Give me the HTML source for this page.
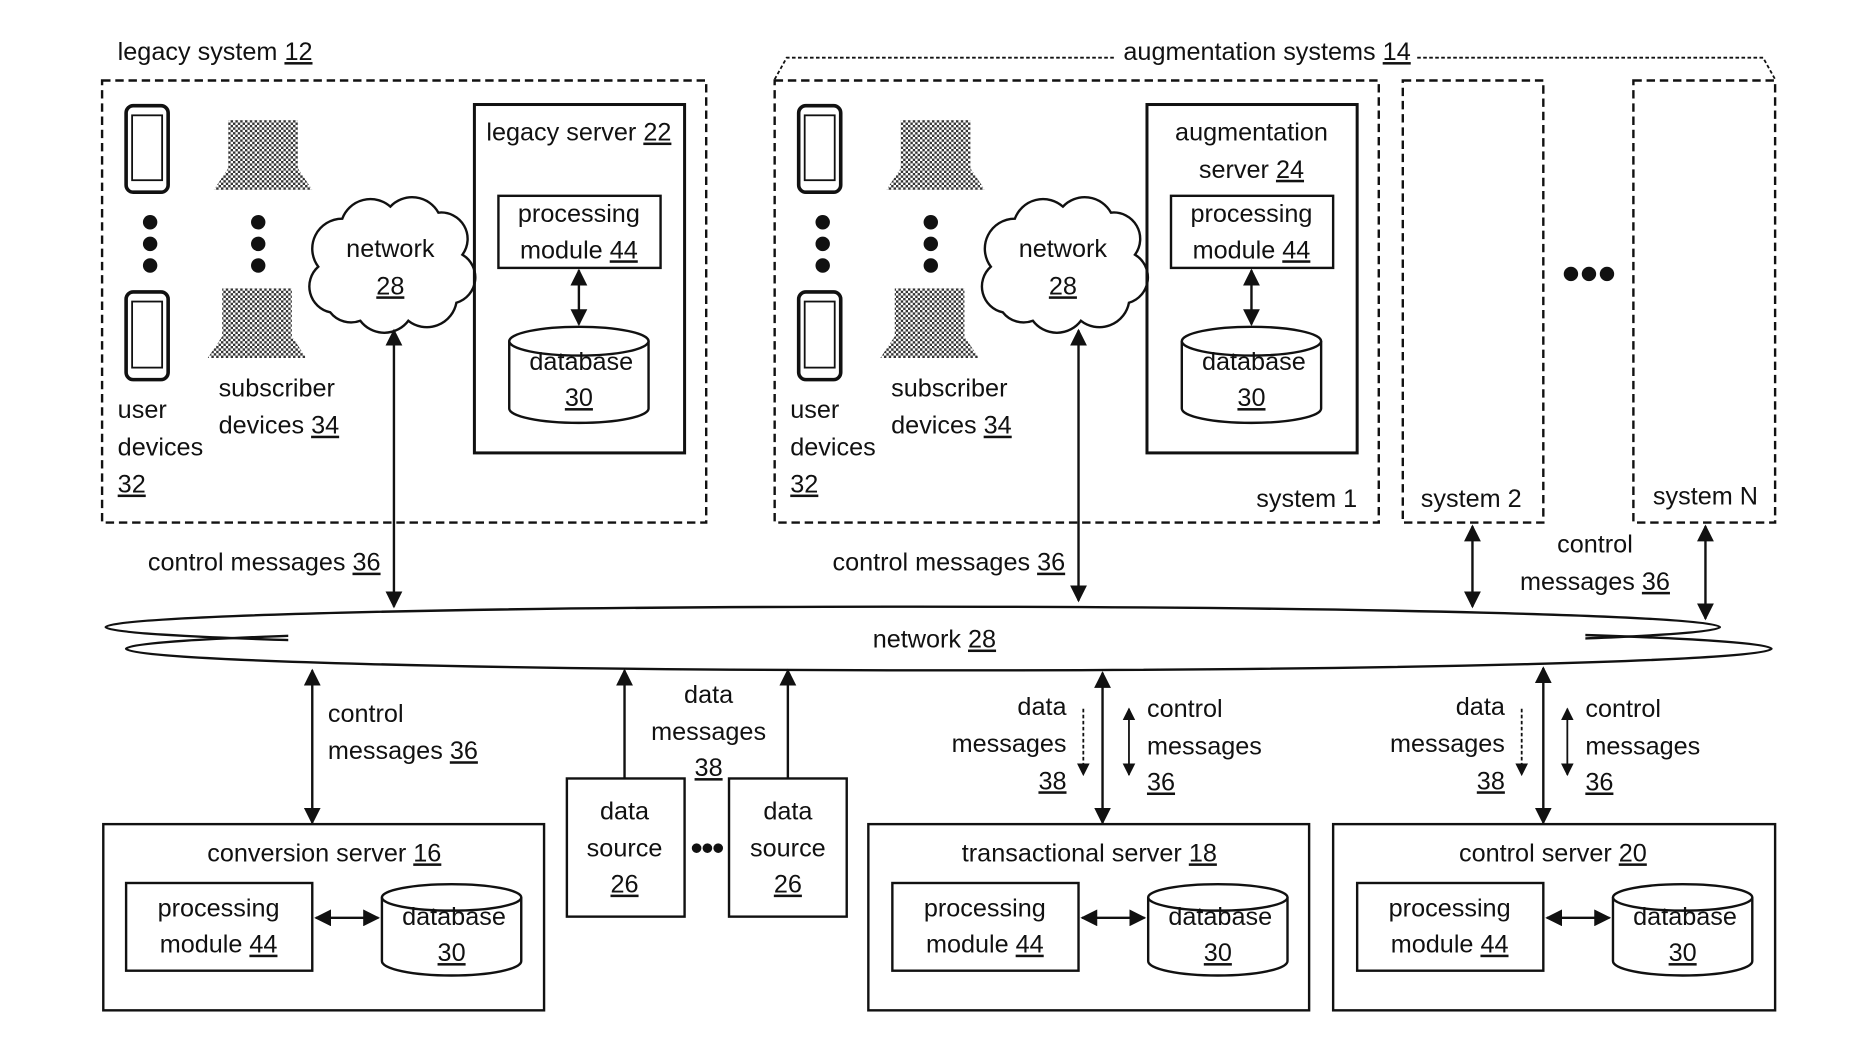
<!DOCTYPE html>
<html><head><meta charset="utf-8"><style>
html,body{margin:0;padding:0;background:#fff}
svg{display:block}
text{font-family:"Liberation Sans",sans-serif;font-size:21px;fill:#111}
.u{text-decoration:underline}
</style></head><body>
<svg width="1876" height="1062" viewBox="0 0 1562 884" preserveAspectRatio="none" xmlns="http://www.w3.org/2000/svg">
<defs>
<marker id="a" viewBox="0 0 10 10" refX="9" refY="5" markerWidth="7" markerHeight="7" orient="auto-start-reverse"><path d="M0,0 L10,5 L0,10 z" fill="#111"/></marker>
<pattern id="dot" width="4" height="4" patternUnits="userSpaceOnUse"><rect width="4" height="4" fill="#fff"/><rect width="2" height="2" fill="#333"/><rect x="2" y="2" width="2" height="2" fill="#333"/></pattern>
<g id="dev">
<rect x="105" y="88" width="35" height="72" rx="6" fill="#fff" stroke="#111" stroke-width="3"/>
<rect x="110" y="96" width="25" height="54" fill="none" stroke="#111" stroke-width="1.5"/>
<rect x="105" y="243" width="35" height="73" rx="6" fill="#fff" stroke="#111" stroke-width="3"/>
<rect x="110" y="251" width="25" height="55" fill="none" stroke="#111" stroke-width="1.5"/>
<circle cx="125" cy="185" r="6" fill="#111"/><circle cx="125" cy="203" r="6" fill="#111"/><circle cx="125" cy="221" r="6" fill="#111"/>
<circle cx="215" cy="185" r="6" fill="#111"/><circle cx="215" cy="203" r="6" fill="#111"/><circle cx="215" cy="221" r="6" fill="#111"/>
<path d="M190,100 H248 V140 L260,158 H178 L190,140 z" fill="url(#dot)"/>
<path d="M185,240 H243 V280 L255,298 H173 L185,280 z" fill="url(#dot)"/>
<text x="98" y="348">user</text><text x="98" y="379">devices</text><text x="98" y="410" class="u">32</text>
<text x="182" y="330">subscriber</text><text x="182" y="361">devices <tspan class="u">34</tspan></text>
<path d="M275,260 a22,22 0 0 1 -10,-38 a25,25 0 0 1 20,-40 a25,25 0 0 1 40,-10 a25,25 0 0 1 40,5 a22,22 0 0 1 20,35 a22,22 0 0 1 -5,40 a25,25 0 0 1 -40,15 a25,25 0 0 1 -40,0 a22,22 0 0 1 -25,-7 z" fill="#fff" stroke="#111" stroke-width="2"/>
<text x="325" y="214" text-anchor="middle">network</text><text x="325" y="245" text-anchor="middle" class="u">28</text>
<rect x="395" y="87" width="175" height="290" fill="none" stroke="#111" stroke-width="2.5"/>
<rect x="415" y="163" width="135" height="60" fill="#fff" stroke="#111" stroke-width="2"/>
<text x="482" y="185" text-anchor="middle">processing</text><text x="482" y="215" text-anchor="middle">module <tspan class="u">44</tspan></text>
<line x1="482" y1="225" x2="482" y2="270" stroke="#111" stroke-width="2" marker-start="url(#a)" marker-end="url(#a)"/>
<path d="M424,284 V340 A58,12 0 0 0 540,340 V284" fill="#fff" stroke="#111" stroke-width="2"/>
<ellipse cx="482" cy="284" rx="58" ry="12" fill="#fff" stroke="#111" stroke-width="2"/>
<text x="484" y="308" text-anchor="middle">database</text><text x="482" y="338" text-anchor="middle" class="u">30</text>
</g>
<g id="bsrv">
<rect x="0" y="0" width="155" height="73" fill="#fff" stroke="#111" stroke-width="2"/>
<text x="77" y="28" text-anchor="middle">processing</text><text x="77" y="58" text-anchor="middle">module <tspan class="u">44</tspan></text>
<line x1="158" y1="29" x2="210" y2="29" stroke="#111" stroke-width="2" marker-start="url(#a)" marker-end="url(#a)"/>
<path d="M213,12 V65 A58,12 0 0 0 329,65 V12" fill="#fff" stroke="#111" stroke-width="2"/>
<ellipse cx="271" cy="12" rx="58" ry="11" fill="#fff" stroke="#111" stroke-width="2"/>
<text x="273" y="35" text-anchor="middle">database</text><text x="271" y="65" text-anchor="middle" class="u">30</text>
</g>
</defs>

<text x="98" y="50">legacy system <tspan class="u">12</tspan></text>
<rect x="85" y="67" width="503" height="368" fill="none" stroke="#111" stroke-width="2" stroke-dasharray="7,4"/>
<use href="#dev"/>
<text x="482" y="117" text-anchor="middle">legacy server <tspan class="u">22</tspan></text>

<path d="M645,66 L655,48 H928 M1180,48 H1468 L1478,66" fill="none" stroke="#111" stroke-width="1.5" stroke-dasharray="3,2"/>
<text x="1055" y="50" text-anchor="middle">augmentation systems <tspan class="u">14</tspan></text>
<rect x="645" y="67" width="503" height="368" fill="none" stroke="#111" stroke-width="2" stroke-dasharray="7,4"/>
<g transform="translate(560,0)"><use href="#dev"/></g>
<rect x="970" y="95" width="145" height="62" fill="#fff"/>
<text x="1042" y="117" text-anchor="middle">augmentation</text><text x="1042" y="148" text-anchor="middle">server <tspan class="u">24</tspan></text>
<text x="1088" y="422" text-anchor="middle">system 1</text>
<rect x="1168" y="67" width="117" height="368" fill="none" stroke="#111" stroke-width="2" stroke-dasharray="7,4"/>
<text x="1225" y="422" text-anchor="middle">system 2</text>
<circle cx="1308" cy="228" r="6" fill="#111"/><circle cx="1323" cy="228" r="6" fill="#111"/><circle cx="1338" cy="228" r="6" fill="#111"/>
<rect x="1360" y="67" width="118" height="368" fill="none" stroke="#111" stroke-width="2" stroke-dasharray="7,4"/>
<text x="1420" y="420" text-anchor="middle">system N</text>

<line x1="328" y1="275" x2="328" y2="505" stroke="#111" stroke-width="2" marker-start="url(#a)" marker-end="url(#a)"/>
<text x="220" y="475" text-anchor="middle">control messages <tspan class="u">36</tspan></text>
<line x1="898" y1="275" x2="898" y2="500" stroke="#111" stroke-width="2" marker-start="url(#a)" marker-end="url(#a)"/>
<text x="790" y="475" text-anchor="middle">control messages <tspan class="u">36</tspan></text>
<line x1="1226" y1="438" x2="1226" y2="505" stroke="#111" stroke-width="2" marker-start="url(#a)" marker-end="url(#a)"/>
<line x1="1420" y1="438" x2="1420" y2="515" stroke="#111" stroke-width="2" marker-start="url(#a)" marker-end="url(#a)"/>
<text x="1328" y="460" text-anchor="middle">control</text><text x="1328" y="491" text-anchor="middle">messages <tspan class="u">36</tspan></text>

<ellipse cx="760" cy="522" rx="672" ry="17" fill="#fff" stroke="#111" stroke-width="2"/>
<ellipse cx="790" cy="540" rx="685" ry="18" fill="none" stroke="#111" stroke-width="2"/>
<rect x="240" y="519" width="1080" height="26" fill="#fff"/>
<text x="778" y="539" text-anchor="middle">network <tspan class="u">28</tspan></text>

<line x1="260" y1="558" x2="260" y2="685" stroke="#111" stroke-width="2" marker-start="url(#a)" marker-end="url(#a)"/>
<text x="273" y="601">control</text><text x="273" y="632">messages <tspan class="u">36</tspan></text>

<line x1="520" y1="648" x2="520" y2="558" stroke="#111" stroke-width="2" marker-end="url(#a)"/>
<line x1="656" y1="648" x2="656" y2="558" stroke="#111" stroke-width="2" marker-end="url(#a)"/>
<text x="590" y="585" text-anchor="middle">data</text><text x="590" y="616" text-anchor="middle">messages</text><text x="590" y="646" text-anchor="middle" class="u">38</text>
<rect x="472" y="648" width="98" height="115" fill="none" stroke="#111" stroke-width="2"/>
<text x="520" y="682" text-anchor="middle">data</text><text x="520" y="713" text-anchor="middle">source</text><text x="520" y="743" text-anchor="middle" class="u">26</text>
<rect x="607" y="648" width="98" height="115" fill="none" stroke="#111" stroke-width="2"/>
<text x="656" y="682" text-anchor="middle">data</text><text x="656" y="713" text-anchor="middle">source</text><text x="656" y="743" text-anchor="middle" class="u">26</text>
<circle cx="580" cy="706" r="4" fill="#111"/><circle cx="589" cy="706" r="4" fill="#111"/><circle cx="598" cy="706" r="4" fill="#111"/>

<line x1="918" y1="560" x2="918" y2="685" stroke="#111" stroke-width="2" marker-start="url(#a)" marker-end="url(#a)"/>
<line x1="902" y1="590" x2="902" y2="645" stroke="#111" stroke-width="1.5" stroke-dasharray="3,2" marker-end="url(#a)"/>
<line x1="940" y1="590" x2="940" y2="645" stroke="#111" stroke-width="1.5" marker-start="url(#a)" marker-end="url(#a)"/>
<text x="888" y="595" text-anchor="end">data</text><text x="888" y="626" text-anchor="end">messages</text><text x="888" y="657" text-anchor="end" class="u">38</text>
<text x="955" y="597">control</text><text x="955" y="628">messages</text><text x="955" y="658" class="u">36</text>

<line x1="1285" y1="556" x2="1285" y2="685" stroke="#111" stroke-width="2" marker-start="url(#a)" marker-end="url(#a)"/>
<line x1="1267" y1="590" x2="1267" y2="645" stroke="#111" stroke-width="1.5" stroke-dasharray="3,2" marker-end="url(#a)"/>
<line x1="1305" y1="590" x2="1305" y2="645" stroke="#111" stroke-width="1.5" marker-start="url(#a)" marker-end="url(#a)"/>
<text x="1253" y="595" text-anchor="end">data</text><text x="1253" y="626" text-anchor="end">messages</text><text x="1253" y="657" text-anchor="end" class="u">38</text>
<text x="1320" y="597">control</text><text x="1320" y="628">messages</text><text x="1320" y="658" class="u">36</text>

<rect x="86" y="686" width="367" height="155" fill="none" stroke="#111" stroke-width="2"/>
<text x="270" y="717" text-anchor="middle">conversion server <tspan class="u">16</tspan></text>
<g transform="translate(105,735)"><use href="#bsrv"/></g>
<rect x="723" y="686" width="367" height="155" fill="none" stroke="#111" stroke-width="2"/>
<text x="907" y="717" text-anchor="middle">transactional server <tspan class="u">18</tspan></text>
<g transform="translate(743,735)"><use href="#bsrv"/></g>
<rect x="1110" y="686" width="368" height="155" fill="none" stroke="#111" stroke-width="2"/>
<text x="1293" y="717" text-anchor="middle">control server <tspan class="u">20</tspan></text>
<g transform="translate(1130,735)"><use href="#bsrv"/></g>
</svg>
</body></html>
